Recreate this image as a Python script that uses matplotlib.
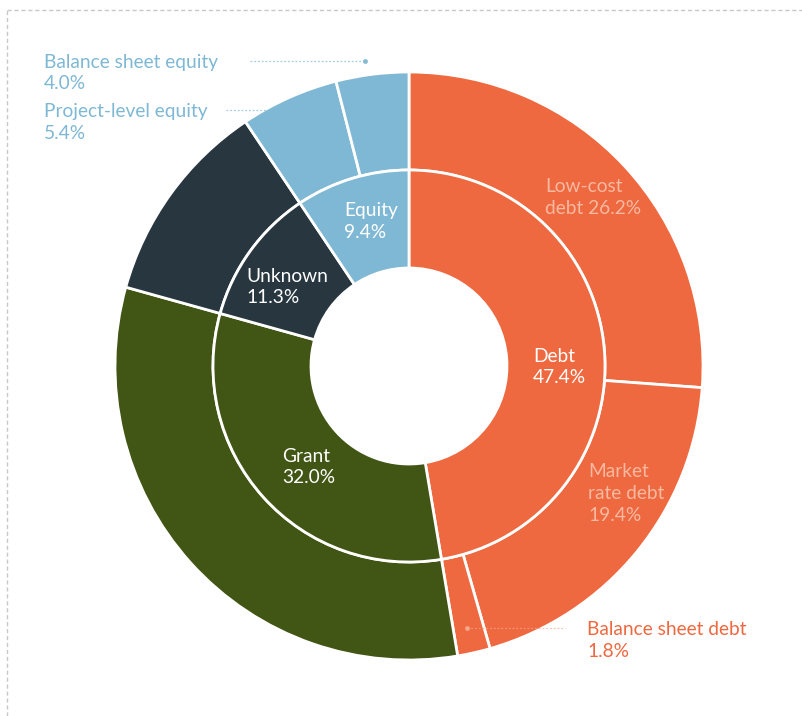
import matplotlib
matplotlib.use("Agg")
import matplotlib.pyplot as plt
from matplotlib.lines import Line2D

plt.rcParams['font.family'] = ['Lato', 'DejaVu Sans']

# Data
inner_labels = ['Debt', 'Grant', 'Unknown', 'Equity']
inner_values = [47.4, 32.0, 11.3, 9.4]
outer_labels = ['Low-cost debt', 'Market rate debt', 'Balance sheet debt',
                'Grant', 'Unknown', 'Project-level equity', 'Balance sheet equity']
outer_values = [26.2, 19.4, 1.8, 32.0, 11.3, 5.4, 4.0]

ORANGE = '#EE6840'
GREEN = '#415514'
NAVY = '#283640'
BLUE = '#7FB8D4'
PEACH = '#F7B9A0'

inner_colors = [ORANGE, GREEN, NAVY, BLUE]
outer_colors = [ORANGE, ORANGE, ORANGE, GREEN, NAVY, BLUE, BLUE]

W, H = 803, 716
fig = plt.figure(figsize=(W / 100, H / 100), dpi=100)
ax = fig.add_axes([0, 0, 1, 1])

cx, cy = 409, H - 366
wp = dict(edgecolor='white', linewidth=2, antialiased=True)

ax.pie(outer_values, colors=outer_colors, radius=294, center=(cx, cy),
       startangle=90, counterclock=False, frame=True,
       wedgeprops=dict(width=98, **wp))
ax.pie(inner_values, colors=inner_colors, radius=196, center=(cx, cy),
       startangle=90, counterclock=False, frame=True,
       wedgeprops=dict(width=98, **wp))

ax.set_xlim(0, W)
ax.set_ylim(0, H)
ax.set_aspect('equal')
ax.axis('off')

fs = 13.8


def label(x, baselines, lines, color):
    # baselines given in pixels from top of the figure
    for y, t in zip(baselines, lines):
        ax.text(x, H - y, t, color=color, fontsize=fs, ha='left',
                va='baseline', zorder=6)


# inner ring labels
label(533, (362, 383), ('Debt', '47.4%'), 'white')
label(282, (462, 483), ('Grant', '32.0%'), 'white')
label(246, (282, 303), ('Unknown', '11.3%'), 'white')
label(344, (216, 238), ('Equity', '9.4%'), 'white')

# outer ring labels
label(545, (192, 214), ('Low-cost', 'debt 26.2%'), PEACH)
label(588, (477, 499, 521), ('Market', 'rate debt', '19.4%'), PEACH)

# external labels with leader lines
label(44, (68, 89), ('Balance sheet equity', '4.0%'), BLUE)
label(44, (117, 139), ('Project-level equity', '5.4%'), BLUE)
label(587, (635, 657), ('Balance sheet debt', '1.8%'), ORANGE)

leaders = [
    ((250, 365), 61, 365, BLUE),
    ((226, 297), 110, 297, BLUE),
    ((467, 565), 628, 467, '#F5A98E'),
]
for (x0, x1), y, xd, c in leaders:
    ax.plot([x0, x1], [H - y, H - y], color=c, lw=0.9, ls=(0, (1.5, 1.5)),
            alpha=0.7, solid_capstyle='butt', zorder=5)
    ax.plot([xd], [H - y], 'o', color=c, ms=2.5, alpha=0.9, zorder=5)

# dashed frame (top and left)
fig.add_artist(Line2D([7 / W, 1], [1 - 10 / H, 1 - 10 / H],
                      color='#c8c8c8', lw=1, ls=(0, (3, 2))))
fig.add_artist(Line2D([7 / W, 7 / W], [0, 1 - 10 / H],
                      color='#c8c8c8', lw=1, ls=(0, (3, 2))))

fig.savefig('out.png', dpi=100, facecolor='white')
